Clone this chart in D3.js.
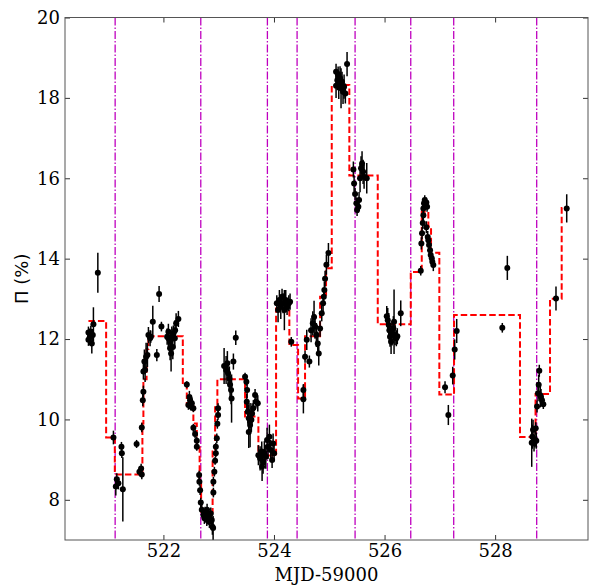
<!DOCTYPE html>
<html>
<head>
<meta charset="utf-8">
<script src="https://cdn.jsdelivr.net/npm/d3@7"></script>
<style>
  html, body { margin: 0; padding: 0; background: #fff; }
  svg text { font-family: "DejaVu Serif", serif; }
</style>
</head>
<body>
<svg id="chart" width="589" height="586"></svg>
<script>
// observations: [MJD-59000, polarisation %, 1-sigma error]
const points = [
  [520.644, 12.16, 0.15], [520.644, 11.98, 0.15], [520.669, 12.06, 0.2], [520.687, 12.18, 0.15],
  [520.705, 11.89, 0.25], [520.723, 12.10, 0.15], [520.734, 12.37, 0.42], [520.814, 13.65, 0.5],
  [521.096, 9.55, 0.17], [521.139, 8.33, 0.22], [521.157, 8.51, 0.15], [521.186, 8.41, 0.15],
  [521.241, 9.32, 0.12], [521.248, 9.16, 0.12], [521.266, 8.26, 0.8],
  [521.515, 9.39, 0.1], [521.566, 8.70, 0.1], [521.597, 8.78, 0.12], [521.609, 8.63, 0.12],
  [521.609, 9.80, 0.12], [521.627, 10.48, 0.15], [521.638, 10.69, 0.15], [521.638, 11.19, 0.2],
  [521.656, 11.44, 0.3], [521.669, 11.23, 0.3], [521.687, 11.56, 0.35], [521.711, 11.60, 0.3],
  [521.729, 12.10, 0.2], [521.759, 12.02, 0.2], [521.772, 12.06, 0.15], [521.808, 12.43, 0.4],
  [521.881, 11.60, 0.15], [521.922, 13.12, 0.2], [521.964, 12.31, 0.12],
  [522.067, 12.06, 0.2], [522.090, 12.18, 0.2], [522.090, 12.02, 0.25], [522.121, 11.93, 0.3],
  [522.121, 11.77, 0.3], [522.139, 11.64, 0.45], [522.152, 12.06, 0.25], [522.170, 11.80, 0.3],
  [522.181, 12.14, 0.2], [522.206, 12.02, 0.25], [522.212, 12.22, 0.25], [522.230, 12.39, 0.25],
  [522.271, 12.50, 0.2],
  [522.423, 10.87, 0.08], [522.452, 10.36, 0.12], [522.470, 10.56, 0.15], [522.483, 10.48, 0.12],
  [522.495, 10.32, 0.1], [522.514, 10.40, 0.15], [522.542, 10.28, 0.1], [522.542, 9.79, 0.1],
  [522.573, 9.64, 0.1], [522.604, 9.32, 0.1], [522.604, 9.47, 0.1], [522.646, 8.62, 0.1],
  [522.651, 8.45, 0.1], [522.664, 8.24, 0.12], [522.676, 7.93, 0.12],
  [522.694, 7.75, 0.15], [522.723, 7.62, 0.15], [522.741, 7.55, 0.15], [522.754, 7.68, 0.15],
  [522.785, 7.50, 0.15], [522.790, 7.75, 0.15], [522.814, 7.58, 0.15], [522.832, 7.45, 0.15],
  [522.857, 7.66, 0.15], [522.875, 7.50, 0.2], [522.886, 7.33, 0.2], [522.899, 7.30, 0.3],
  [522.904, 8.18, 0.12], [522.904, 8.45, 0.12], [522.922, 8.70, 0.12], [522.935, 8.97, 0.1],
  [522.948, 9.16, 0.1], [522.948, 9.32, 0.1], [522.966, 9.53, 0.12], [522.976, 9.89, 0.12],
  [522.989, 10.11, 0.12], [522.989, 10.28, 0.12],
  [523.098, 11.33, 0.45], [523.134, 11.23, 0.35], [523.157, 11.40, 0.3], [523.170, 11.15, 0.3],
  [523.193, 11.02, 0.3], [523.206, 10.86, 0.3], [523.224, 10.73, 0.35], [523.233, 10.52, 0.6],
  [523.266, 11.44, 0.2], [523.309, 12.03, 0.18],
  [523.477, 11.06, 0.1], [523.501, 10.94, 0.1], [523.514, 10.73, 0.2], [523.508, 10.44, 0.2],
  [523.526, 10.19, 0.3], [523.544, 10.03, 0.35], [523.544, 9.69, 0.4], [523.568, 9.86, 0.55],
  [523.591, 9.99, 0.3], [523.604, 10.15, 0.25], [523.627, 10.28, 0.2], [523.658, 10.61, 0.15],
  [523.676, 10.44, 0.15], [523.707, 10.40, 0.2],
  [523.718, 9.11, 0.25], [523.749, 9.03, 0.3], [523.779, 9.20, 0.25], [523.785, 8.82, 0.35],
  [523.803, 8.95, 0.3], [523.826, 9.16, 0.3], [523.852, 9.07, 0.3], [523.875, 9.49, 0.3],
  [523.893, 9.32, 0.3], [523.917, 9.57, 0.3], [523.942, 9.24, 0.25], [523.966, 8.99, 0.2],
  [523.984, 9.40, 0.25], [524.002, 9.16, 0.2],
  [524.051, 12.89, 0.2], [524.074, 12.72, 0.3], [524.098, 12.97, 0.25], [524.123, 12.80, 0.3],
  [524.146, 13.05, 0.2], [524.165, 12.89, 0.25], [524.188, 12.72, 0.5], [524.213, 12.97, 0.25],
  [524.237, 12.80, 0.2], [524.268, 12.89, 0.2], [524.291, 12.93, 0.2], [524.313, 11.93, 0.12],
  [524.532, 10.73, 0.15], [524.532, 10.50, 0.35], [524.562, 11.56, 0.15], [524.593, 11.98, 0.25],
  [524.640, 11.44, 0.15], [524.671, 12.22, 0.3], [524.702, 12.39, 0.3], [524.725, 12.55, 0.4],
  [524.743, 12.31, 0.3], [524.767, 12.10, 0.3], [524.792, 11.89, 0.3], [524.810, 11.64, 0.3],
  [524.834, 12.26, 0.2], [524.864, 12.64, 0.2], [524.888, 12.89, 0.2], [524.901, 13.05, 0.2],
  [524.911, 13.22, 0.2], [524.924, 13.50, 0.2], [524.948, 13.85, 0.25], [524.985, 14.14, 0.25],
  [525.123, 18.65, 0.2], [525.123, 18.30, 0.3], [525.146, 18.44, 0.25], [525.160, 18.58, 0.2],
  [525.172, 18.32, 0.35], [525.195, 18.49, 0.3], [525.213, 18.24, 0.5], [525.231, 18.40, 0.25],
  [525.249, 18.15, 0.3], [525.268, 18.28, 0.3], [525.291, 18.11, 0.25], [525.322, 18.84, 0.3],
  [525.436, 16.22, 0.2], [525.449, 15.87, 0.2], [525.467, 15.61, 0.15], [525.490, 15.38, 0.15],
  [525.503, 15.21, 0.15], [525.526, 15.29, 0.15], [525.539, 15.46, 0.2], [525.557, 16.00, 0.35],
  [525.575, 16.25, 0.3], [525.593, 16.37, 0.3], [525.612, 16.16, 0.3], [525.630, 16.04, 0.3],
  [525.678, 16.00, 0.38],
  [526.040, 12.57, 0.25], [526.058, 12.47, 0.3], [526.076, 12.35, 0.3], [526.087, 12.22, 0.3],
  [526.099, 12.06, 0.25], [526.118, 11.93, 0.3], [526.136, 12.14, 0.3], [526.159, 12.27, 0.3],
  [526.172, 12.43, 0.8], [526.190, 12.10, 0.25], [526.213, 12.02, 0.2], [526.231, 12.07, 0.2],
  [526.293, 12.64, 0.32],
  [526.655, 13.70, 0.12], [526.666, 14.38, 0.15], [526.678, 14.63, 0.15], [526.691, 14.89, 0.15],
  [526.702, 15.08, 0.15], [526.702, 15.25, 0.12], [526.714, 15.38, 0.12], [526.727, 15.46, 0.12],
  [526.738, 15.33, 0.12], [526.756, 15.40, 0.12], [526.769, 15.29, 0.12], [526.756, 14.78, 0.15],
  [526.781, 14.54, 0.15], [526.792, 14.46, 0.12], [526.805, 14.34, 0.12], [526.823, 14.21, 0.12],
  [526.835, 14.09, 0.12], [526.854, 14.01, 0.12], [526.864, 13.92, 0.12], [526.882, 13.84, 0.15],
  [527.094, 10.80, 0.15], [527.154, 10.11, 0.25], [527.233, 11.09, 0.22], [527.269, 11.74, 0.25],
  [527.305, 12.20, 0.3],
  [528.130, 12.28, 0.12], [528.221, 13.77, 0.3],
  [528.662, 9.42, 0.6], [528.673, 9.57, 0.3], [528.686, 9.74, 0.25], [528.704, 9.40, 0.2],
  [528.722, 9.50, 0.2], [528.734, 9.78, 0.15], [528.745, 9.47, 0.2], [528.758, 10.32, 0.15],
  [528.776, 10.65, 0.2], [528.788, 10.86, 0.25], [528.799, 11.21, 0.15], [528.817, 10.60, 0.3],
  [528.830, 10.56, 0.2], [528.848, 10.48, 0.15], [528.872, 10.38, 0.12],
  [529.101, 13.01, 0.3], [529.295, 15.25, 0.35]
];

// bayesian block edges and block levels
const blockEdges = [520.644, 520.964, 521.121, 521.620, 521.638, 521.696, 521.729, 522.351,
  522.423, 522.542, 522.604, 522.655, 522.682, 522.890, 522.935, 522.976, 523.477, 523.718,
  524.038, 524.278, 524.436, 524.562, 524.834, 524.942, 525.045, 525.363, 525.877, 526.474,
  526.673, 526.792, 526.841, 526.991, 527.257, 528.450, 528.731, 528.993, 529.204, 529.300];
const blockValues = [12.45, 9.55, 8.63, 9.9, 11.0, 11.75, 12.07, 10.86, 10.36, 9.9, 9.3, 8.4,
  7.7, 9.2, 10.3, 11.0, 10.07, 9.1, 12.76, 11.85, 10.52, 12.07, 13.05, 13.76, 18.32, 16.07,
  12.37, 13.67, 15.17, 14.8, 14.15, 10.62, 12.6, 9.56, 10.63, 13.0, 15.26];

const markers = [521.127, 522.676, 523.881, 524.418, 525.467, 526.474, 527.251, 528.752];

const xTicks = [522, 524, 526, 528];
const yTicks = [8, 10, 12, 14, 16, 18, 20];

let svg = d3.select('#chart');
let margin = { left: 65, right: 1, top: 17.5, bottom: 46 },
  width = 589 - margin.left - margin.right,
  height = 586 - margin.top - margin.bottom;

let g = svg.append('g').attr('transform', 'translate(' + margin.left + ',' + margin.top + ')');

let x = d3.scaleLinear().domain([520.22, 529.68]).range([0, width]);
let y = d3.scaleLinear().domain([7, 20]).range([height, 0]);

g.append('defs').append('clipPath').attr('id', 'clip')
  .append('rect').attr('width', width).attr('height', height);

let plot = g.append('g').attr('clip-path', 'url(#clip)');

// vertical markers
plot.selectAll('.marker').data(markers).enter().append('line')
  .attr('class', 'marker')
  .attr('x1', d => x(d)).attr('x2', d => x(d))
  .attr('y1', 0).attr('y2', height)
  .attr('stroke', '#bf00bf')
  .attr('stroke-width', 1.3)
  .attr('stroke-dasharray', '8,2,1.5,2');

// step function
let steps = blockValues.map((v, i) => [blockEdges[i], v]);
steps.push([blockEdges[blockEdges.length - 1], blockValues[blockValues.length - 1]]);
let stepLine = d3.line().x(d => x(d[0])).y(d => y(d[1])).curve(d3.curveStepAfter);
plot.append('path').datum(steps)
  .attr('d', stepLine)
  .attr('fill', 'none')
  .attr('stroke', '#ff0000')
  .attr('stroke-width', 2)
  .attr('stroke-dasharray', '6.5,3');

// error bars and points
plot.selectAll('.err').data(points).enter().append('line')
  .attr('class', 'err')
  .attr('x1', d => x(d[0])).attr('x2', d => x(d[0]))
  .attr('y1', d => y(d[1] - d[2])).attr('y2', d => y(d[1] + d[2]))
  .attr('stroke', '#000').attr('stroke-width', 1.5);

plot.selectAll('.pt').data(points).enter().append('circle')
  .attr('class', 'pt')
  .attr('cx', d => x(d[0])).attr('cy', d => y(d[1]))
  .attr('r', 3)
  .attr('fill', '#000');

// axes, ticks pointing inward
function styleAxis(sel) {
  sel.select('.domain').remove();
  sel.selectAll('.tick line').attr('stroke', '#333').attr('stroke-width', 1);
  sel.selectAll('text').attr('fill', '#000').style('font-size', '18px')
    .style('font-family', '"DejaVu Serif", serif');
}

g.append('g').attr('transform', 'translate(0,' + height + ')')
  .call(d3.axisBottom(x).tickValues(xTicks).tickFormat(d3.format('d')).tickSize(-5).tickPadding(4))
  .call(styleAxis);
g.append('g')
  .call(d3.axisTop(x).tickValues(xTicks).tickFormat('').tickSize(-5))
  .call(styleAxis);
g.append('g')
  .call(d3.axisLeft(y).tickValues(yTicks).tickFormat(d3.format('d')).tickSize(-5).tickPadding(5))
  .call(styleAxis);
g.append('g').attr('transform', 'translate(' + width + ',0)')
  .call(d3.axisRight(y).tickValues(yTicks).tickFormat('').tickSize(-5))
  .call(styleAxis);

g.append('rect')
  .attr('width', width).attr('height', height)
  .attr('fill', 'none').attr('stroke', '#555').attr('stroke-width', 1);

// axis labels
svg.append('text')
  .attr('x', margin.left + width / 2).attr('y', 581)
  .attr('text-anchor', 'middle')
  .style('font-size', '18px')
  .text('MJD-59000');

svg.append('text')
  .attr('transform', 'translate(28,' + (margin.top + height / 2) + ') rotate(-90)')
  .attr('text-anchor', 'middle')
  .style('font-size', '18px')
  .style('font-family', '"DejaVu Sans", sans-serif')
  .text('Π (%)');
</script>
</body>
</html>
